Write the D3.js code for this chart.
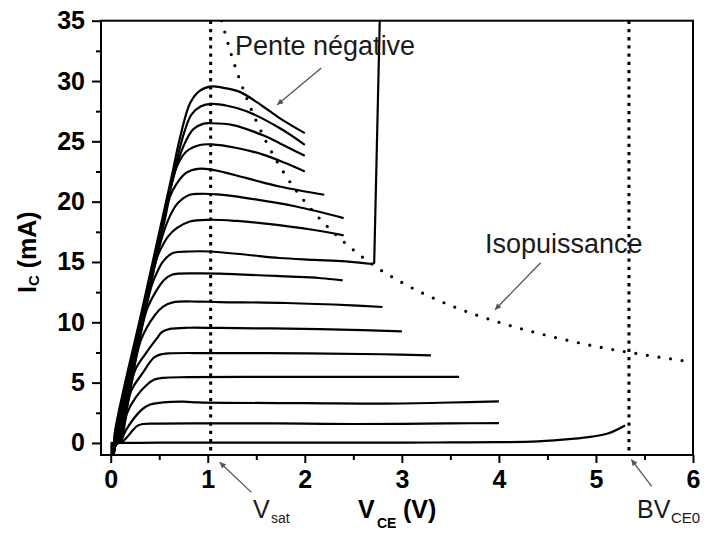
<!DOCTYPE html>
<html>
<head>
<meta charset="utf-8">
<script src="https://cdn.jsdelivr.net/npm/d3@7"></script>
<style>
  body { margin: 0; background: #fff; }
  svg { display: block; }
</style>
</head>
<body>
<svg id="chart" width="704" height="534"></svg>
<script>
// ---- Axis ticks ----
const xTicks = [0, 1, 2, 3, 4, 5, 6];
const xMinor = [0.5, 1.5, 2.5, 3.5, 4.5, 5.5];
const yTicks = [0, 5, 10, 15, 20, 25, 30, 35];
const yMinor = [2.5, 7.5, 12.5, 17.5, 22.5, 27.5, 32.5];

// ---- Output characteristics Ic(Vce), one trace per base current: [Vce (V), Ic (mA)] ----
const trace0 = [[0,0],[0.5,0.02],[1,0.03],[2,0.03],[3,0.03],[3.5,0.04],[4,0.06],[4.4,0.13],[4.75,0.33],[4.96,0.52],[5.13,0.8],[5.3,1.45]];
const trace1 = [[0,-0.06],[0.03,-0.06],[0.11,0.05],[0.17,0.5],[0.27,1.4],[0.33,1.57],[0.5,1.6],[1,1.62],[1.5,1.62],[2,1.6],[2.5,1.57],[3,1.58],[3.5,1.62],[4,1.65]];
const trace2 = [[0,-0.12],[0.03,-0.12],[0.1,0.1],[0.16,1.1],[0.32,2.76],[0.4,3.17],[0.54,3.36],[0.75,3.42],[0.9,3.36],[1.2,3.32],[2,3.3],[2.84,3.26],[3.5,3.35],[4,3.45]];
const trace3 = [[0,-0.18],[0.03,-0.18],[0.1,0.15],[0.17,2.5],[0.26,3.8],[0.37,4.8],[0.45,5.25],[0.54,5.4],[0.8,5.45],[1.5,5.47],[2.5,5.47],[3.59,5.47]];
const trace4 = [[0,-0.24],[0.03,-0.24],[0.095,0.2],[0.21,4.3],[0.33,5.8],[0.44,7.04],[0.5,7.3],[0.6,7.42],[1,7.45],[2,7.42],[2.8,7.35],[3.3,7.26]];
const trace5 = [[0,-0.3],[0.03,-0.3],[0.09,0.25],[0.17,3.1],[0.25,6.0],[0.36,7.4],[0.47,8.6],[0.53,9.2],[0.61,9.45],[0.8,9.55],[1.12,9.53],[2.15,9.44],[2.6,9.35],[3.0,9.25]];
const trace6 = [[0,-0.36],[0.03,-0.36],[0.085,0.3],[0.2,4.4],[0.31,8.5],[0.455,10.6],[0.54,11.3],[0.64,11.65],[0.9,11.72],[1.12,11.68],[1.81,11.6],[2.49,11.4],[2.8,11.27]];
const trace7 = [[0,-0.42],[0.03,-0.42],[0.08,0.35],[0.22,5.5],[0.37,11.0],[0.47,12.6],[0.55,13.5],[0.63,13.94],[0.9,14.05],[1.12,14.03],[1.81,13.8],[2.15,13.67],[2.39,13.47]];
const trace8 = [[0,-0.48],[0.03,-0.48],[0.075,0.4],[0.25,6.8],[0.42,13.0],[0.49,14.36],[0.54,15.05],[0.64,15.74],[0.815,15.87],[1.02,15.87],[1.4,15.6],[1.74,15.33],[2.1,15.18],[2.42,15.05],[2.69,14.83]];
const trace9 = [[0,-0.54],[0.03,-0.54],[0.07,0.45],[0.27,7.8],[0.47,15.2],[0.53,16.3],[0.59,17.1],[0.68,17.8],[0.815,18.36],[1.02,18.5],[1.3,18.4],[1.57,18.2],[2.08,17.67],[2.4,17.2]];
const trace10 = [[0,-0.6],[0.03,-0.6],[0.065,0.5],[0.29,8.6],[0.52,16.8],[0.61,18.8],[0.695,19.9],[0.815,20.57],[0.92,20.65],[1.1,20.6],[1.4,20.3],[1.91,19.6],[2.4,18.64]];
const trace11 = [[0,-0.66],[0.03,-0.66],[0.06,0.55],[0.31,9.6],[0.56,18.6],[0.61,20.4],[0.68,21.5],[0.78,22.4],[0.9,22.72],[1.04,22.65],[1.4,21.95],[1.74,21.26],[2.2,20.57]];
const trace12 = [[0,-0.72],[0.03,-0.72],[0.055,0.6],[0.34,10.9],[0.62,21.3],[0.68,22.9],[0.78,24.16],[0.92,24.7],[1.04,24.75],[1.3,24.45],[1.57,23.9],[1.8,23.2],[2.0,22.5]];
const trace13 = [[0,-0.78],[0.03,-0.78],[0.05,0.65],[0.35,11.3],[0.64,21.8],[0.75,24.6],[0.85,26.0],[0.95,26.45],[1.04,26.5],[1.26,26.35],[1.57,25.5],[1.74,24.85],[2.0,23.8]];
const trace14 = [[0,-0.84],[0.03,-0.84],[0.045,0.7],[0.36,12.0],[0.68,23.4],[0.76,25.8],[0.83,27.2],[0.93,27.9],[1.04,28.1],[1.2,27.95],[1.4,27.5],[1.74,26.1],[2.0,24.71]];
const trace15 = [[0,-0.9],[0.03,-0.9],[0.04,0.75],[0.33,11.3],[0.62,21.8],[0.72,25.5],[0.82,28.2],[0.92,29.2],[1.04,29.55],[1.15,29.45],[1.33,29.1],[1.57,27.89],[1.74,26.93],[2.0,25.68]];
const traces = [trace0, trace1, trace2, trace3, trace4, trace5, trace6, trace7,
                trace8, trace9, trace10, trace11, trace12, trace13, trace14, trace15];

// Avalanche rise at the end of the 9th trace
const breakdown = [[2.69,14.83],[2.715,14.92],[2.775,36]];

// Constant-power limit (about 40 mW): [Vce, Ic]
const isoPower = [[1.143,35],[1.25,32],[1.4,28.6],[1.6,25],[1.8,22.2],[2,20],[2.25,17.8],[2.5,16],[2.75,14.5],[3,13.3],[3.5,11.4],[4,10],[4.5,8.9],[5,8],[5.5,7.3],[6,6.7]];

// Reference voltages (V)
const vSat = 1.03;
const bvCE0 = 5.34;

// ---- Layout ----
const FONT = "'Liberation Sans', Arial, Helvetica, sans-serif";
const svg = d3.select("#chart");
const x = d3.scaleLinear().domain([-0.1, 6]).range([101, 693]);
const y = d3.scaleLinear().domain([-1, 35]).range([455, 20.7]);
const [x0, x1] = x.range();
const [yB, yT] = y.range();

const defs = svg.append("defs");
defs.append("clipPath").attr("id", "plot")
  .append("rect").attr("x", x0).attr("y", yT).attr("width", x1 - x0).attr("height", yB - yT);

defs.append("marker")
  .attr("id", "head").attr("viewBox", "0 0 10 10")
  .attr("refX", 10).attr("refY", 5)
  .attr("markerWidth", 10).attr("markerHeight", 6)
  .attr("markerUnits", "userSpaceOnUse")
  .attr("orient", "auto")
  .append("path").attr("d", "M0,0 L10,5 L0,10 Z").attr("fill", "#555");

const plot = svg.append("g").attr("clip-path", "url(#plot)");

// dotted reference verticals
[vSat, bvCE0].forEach(v => {
  plot.append("line")
    .attr("x1", x(v)).attr("x2", x(v))
    .attr("y1", y(35)).attr("y2", y(-1))
    .attr("stroke", "#000").attr("stroke-width", 3)
    .attr("stroke-dasharray", "3.3 4.9");
});

// iso-power hyperbola
const smooth = d3.line().x(d => x(d[0])).y(d => y(d[1])).curve(d3.curveMonotoneX);
plot.append("path")
  .attr("d", smooth(isoPower))
  .attr("fill", "none").attr("stroke", "#000")
  .attr("stroke-width", 3.2).attr("stroke-linecap", "round")
  .attr("stroke-dasharray", "0 11.7");

// characteristic curves
const traceLine = d3.line().x(d => x(d[0])).y(d => y(d[1])).curve(d3.curveCatmullRom.alpha(0.5));
plot.selectAll("path.trace").data(traces).join("path")
  .attr("class", "trace")
  .attr("d", traceLine)
  .attr("fill", "none").attr("stroke", "#000")
  .attr("stroke-width", 2.2).attr("stroke-linejoin", "round");

const straight = d3.line().x(d => x(d[0])).y(d => y(d[1]));
plot.append("path")
  .attr("d", straight(breakdown))
  .attr("fill", "none").attr("stroke", "#000")
  .attr("stroke-width", 2.2).attr("stroke-linejoin", "round");

// ---- Frame and axes ----
svg.append("rect")
  .attr("x", x0).attr("y", yT).attr("width", x1 - x0).attr("height", yB - yT)
  .attr("fill", "none").attr("stroke", "#000").attr("stroke-width", 2);

function styleAxis(g) {
  g.select(".domain").remove();
  g.selectAll(".tick line").attr("stroke", "#000").attr("stroke-width", 2);
  g.selectAll(".tick text")
    .attr("font-family", FONT).attr("font-size", 25).attr("font-weight", "bold")
    .attr("fill", "#000");
}

svg.append("g").attr("transform", `translate(0,${yB})`)
  .call(d3.axisBottom(x).tickValues(xMinor).tickSize(5).tickFormat(""))
  .call(styleAxis);
svg.append("g").attr("transform", `translate(0,${yB})`)
  .call(d3.axisBottom(x).tickValues(xTicks).tickSize(8).tickPadding(7).tickFormat(d3.format("d")))
  .call(styleAxis);
svg.append("g").attr("transform", `translate(${x0},0)`)
  .call(d3.axisLeft(y).tickValues(yMinor).tickSize(5).tickFormat(""))
  .call(styleAxis);
svg.append("g").attr("transform", `translate(${x0},0)`)
  .call(d3.axisLeft(y).tickValues(yTicks).tickSize(9).tickPadding(7).tickFormat(d3.format("d")))
  .call(styleAxis);

// ---- Axis titles ----
const yTitle = svg.append("text")
  .attr("transform", "translate(36,293) rotate(-90)")
  .attr("font-family", FONT).attr("font-weight", "bold").attr("font-size", 25).attr("fill", "#000");
yTitle.append("tspan").text("I");
yTitle.append("tspan").attr("font-size", 15).attr("dy", 3).text("C");
yTitle.append("tspan").attr("dy", -3).text(" (mA)");

const xTitle = svg.append("g").attr("font-family", FONT).attr("font-weight", "bold").attr("fill", "#000");
xTitle.append("text").attr("x", 358).attr("y", 518).attr("font-size", 25).text("V");
xTitle.append("text").attr("x", 377).attr("y", 528).attr("font-size", 14).text("CE");
xTitle.append("text").attr("x", 403).attr("y", 518).attr("font-size", 25).text("(V)");

// ---- Annotations ----
const note = svg.append("g").attr("font-family", FONT).attr("fill", "#1a1a1a");
note.append("text").attr("x", 235).attr("y", 55).attr("font-size", 27).text("Pente négative");
note.append("text").attr("x", 485).attr("y", 253).attr("font-size", 27).text("Isopuissance");
note.append("text").attr("x", 253).attr("y", 518).attr("font-size", 25).text("V");
note.append("text").attr("x", 271).attr("y", 523).attr("font-size", 14).text("sat");
note.append("text").attr("x", 637).attr("y", 518).attr("font-size", 25).text("BV");
note.append("text").attr("x", 671).attr("y", 523).attr("font-size", 15).text("CE0");

// arrows: [from, to] in (Vce, Ic)
const arrows = [
  [[2.17, 31.07], [1.716, 28.03]],
  [[4.43, 14.94], [3.96, 11.04]],
  [[1.45, -4.1], [1.123, -1.6]],
  [[5.574, -3.6], [5.365, -1.38]]
];
svg.selectAll("line.arrow").data(arrows).join("line")
  .attr("class", "arrow")
  .attr("x1", d => x(d[0][0])).attr("y1", d => y(d[0][1]))
  .attr("x2", d => x(d[1][0])).attr("y2", d => y(d[1][1]))
  .attr("stroke", "#555").attr("stroke-width", 1.3)
  .attr("marker-end", "url(#head)");
</script>
</body>
</html>
